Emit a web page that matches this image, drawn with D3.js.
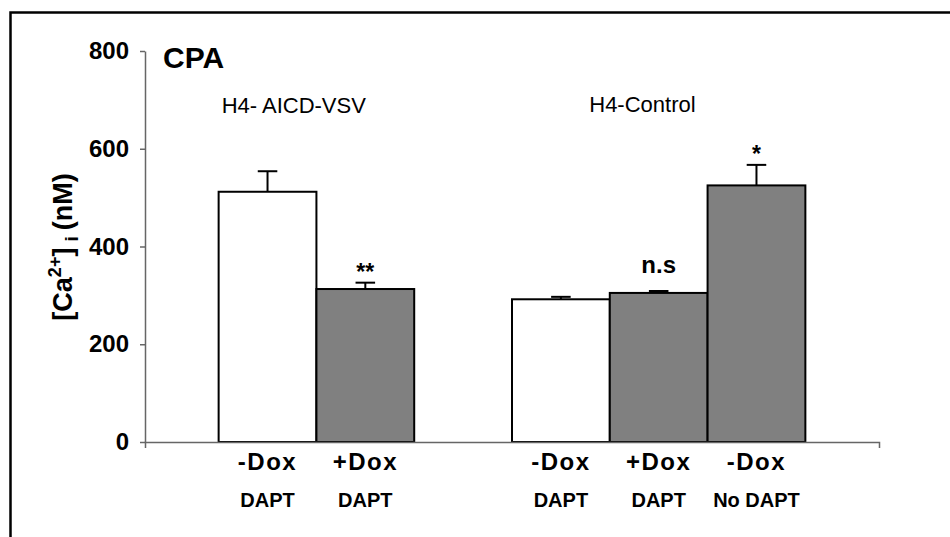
<!DOCTYPE html>
<html>
<head>
<meta charset="utf-8">
<script src="https://cdn.jsdelivr.net/npm/d3@7"></script>
<style>
  html, body { margin: 0; padding: 0; background: #fff; }
  svg { display: block; font-family: "Liberation Sans", Arial, sans-serif; }
</style>
</head>
<body>
<svg id="chart" width="950" height="537"></svg>
<script>
// Cytosolic calcium after CPA, per cell line and treatment
const groupNames = ["H4- AICD-VSV", "H4-Control"];
const slots = ["a1", "a2", "gap", "b1", "b2", "b3"];
const barSlots = ["a1", "a2", "b1", "b2", "b3"];
const conditions = ["-Dox", "+Dox", "-Dox", "+Dox", "-Dox"];
const treatments = ["DAPT", "DAPT", "DAPT", "DAPT", "No DAPT"];
const values = [512, 313, 292, 305, 525];
const errors = [42, 13, 5, 4, 42];
const marks = ["", "**", "", "n.s", "*"];
const yTicks = [0, 200, 400, 600, 800];

const svg = d3.select("#chart");

// outer frame
svg.append("rect")
  .attr("x", 10.5).attr("y", 12.5)
  .attr("width", 1200).attr("height", 1200)
  .attr("fill", "none").attr("stroke", "#000").attr("stroke-width", 2.5);

const x = d3.scaleBand().domain(slots).range([145, 879])
  .paddingInner(0).paddingOuter(0.753);
const y = d3.scaleLinear().domain([0, 800]).range([442, 51]);

const bars = barSlots.map((s, i) => ({
  slot: s, cond: conditions[i], treat: treatments[i],
  value: values[i], err: errors[i], mark: marks[i]
}));

// y axis
const yAxis = svg.append("g")
  .attr("transform", "translate(145,0)")
  .call(d3.axisLeft(y).tickValues(yTicks).tickSize(5).tickSizeOuter(0).tickPadding(11));
yAxis.selectAll("path, line").attr("stroke", "#666").attr("stroke-width", 1.5);
yAxis.selectAll("text")
  .attr("font-family", "Liberation Sans, Arial, sans-serif")
  .attr("font-size", 24).attr("font-weight", "bold").attr("fill", "#000");

// bars
svg.append("g").selectAll("rect").data(bars).join("rect")
  .attr("x", d => x(d.slot))
  .attr("y", d => y(d.value))
  .attr("width", x.bandwidth())
  .attr("height", d => y(0) - y(d.value))
  .attr("fill", d => (d.cond === "-Dox" && d.treat === "DAPT") ? "#ffffff" : "#808080")
  .attr("stroke", "#000").attr("stroke-width", 2);

// error bars
const eb = svg.append("g").attr("stroke", "#000").attr("stroke-width", 2);
bars.forEach(d => {
  const cx = x(d.slot) + x.bandwidth() / 2;
  const cw = x.bandwidth() * 0.1;
  eb.append("line").attr("x1", cx).attr("x2", cx)
    .attr("y1", y(d.value)).attr("y2", y(d.value + d.err));
  eb.append("line").attr("x1", cx - cw).attr("x2", cx + cw)
    .attr("y1", y(d.value + d.err)).attr("y2", y(d.value + d.err));
});

// x axis
const xAxis = svg.append("g")
  .attr("transform", "translate(0,442)")
  .call(d3.axisBottom(x).tickValues([]).tickSizeOuter(6));
xAxis.select("path").attr("stroke", "#666").attr("stroke-width", 1.5);

// significance marks
svg.append("g").selectAll("text").data(bars.filter(d => d.mark)).join("text")
  .attr("x", d => x(d.slot) + x.bandwidth() / 2)
  .attr("y", d => d.mark === "n.s" ? y(d.value + d.err) - 18 : y(d.value + d.err) - 3)
  .attr("text-anchor", "middle")
  .attr("font-size", d => d.mark === "n.s" ? 24 : 23)
  .attr("font-weight", "bold")
  .text(d => d.mark);

// category labels
const lab = svg.append("g").attr("text-anchor", "middle").attr("font-weight", "bold");
lab.selectAll("text.cond").data(bars).join("text").attr("class", "cond")
  .attr("x", d => x(d.slot) + x.bandwidth() / 2)
  .attr("y", 470)
  .attr("font-size", 24)
  .attr("letter-spacing", 1.5)
  .text(d => d.cond);
lab.selectAll("text.treat").data(bars).join("text").attr("class", "treat")
  .attr("x", d => x(d.slot) + x.bandwidth() / 2)
  .attr("y", 507)
  .attr("font-size", 20)
  .text(d => d.treat);

// group titles
svg.append("text").attr("x", x("a1") + 3).attr("y", 113)
  .attr("font-size", 22).text(groupNames[0]);
svg.append("text").attr("x", x("b1") + x.step() * 0.79).attr("y", 112)
  .attr("font-size", 22).text(groupNames[1]);

// panel title
svg.append("text").attr("x", 163).attr("y", 68)
  .attr("font-size", 30).attr("font-weight", "bold").text("CPA");

// y axis title
const yt = svg.append("text")
  .attr("transform", "translate(72,247) rotate(-90)")
  .attr("text-anchor", "middle")
  .attr("font-size", 27).attr("font-weight", "bold");
yt.append("tspan").text("[Ca");
yt.append("tspan").attr("dy", -11).attr("font-size", 18).text("2+");
yt.append("tspan").attr("dy", 11).text("]");
yt.append("tspan").attr("dx", 6).attr("dy", 6).attr("font-size", 19).text("i");
yt.append("tspan").attr("dx", 6).attr("dy", -6).text("(nM)");
</script>
</body>
</html>
